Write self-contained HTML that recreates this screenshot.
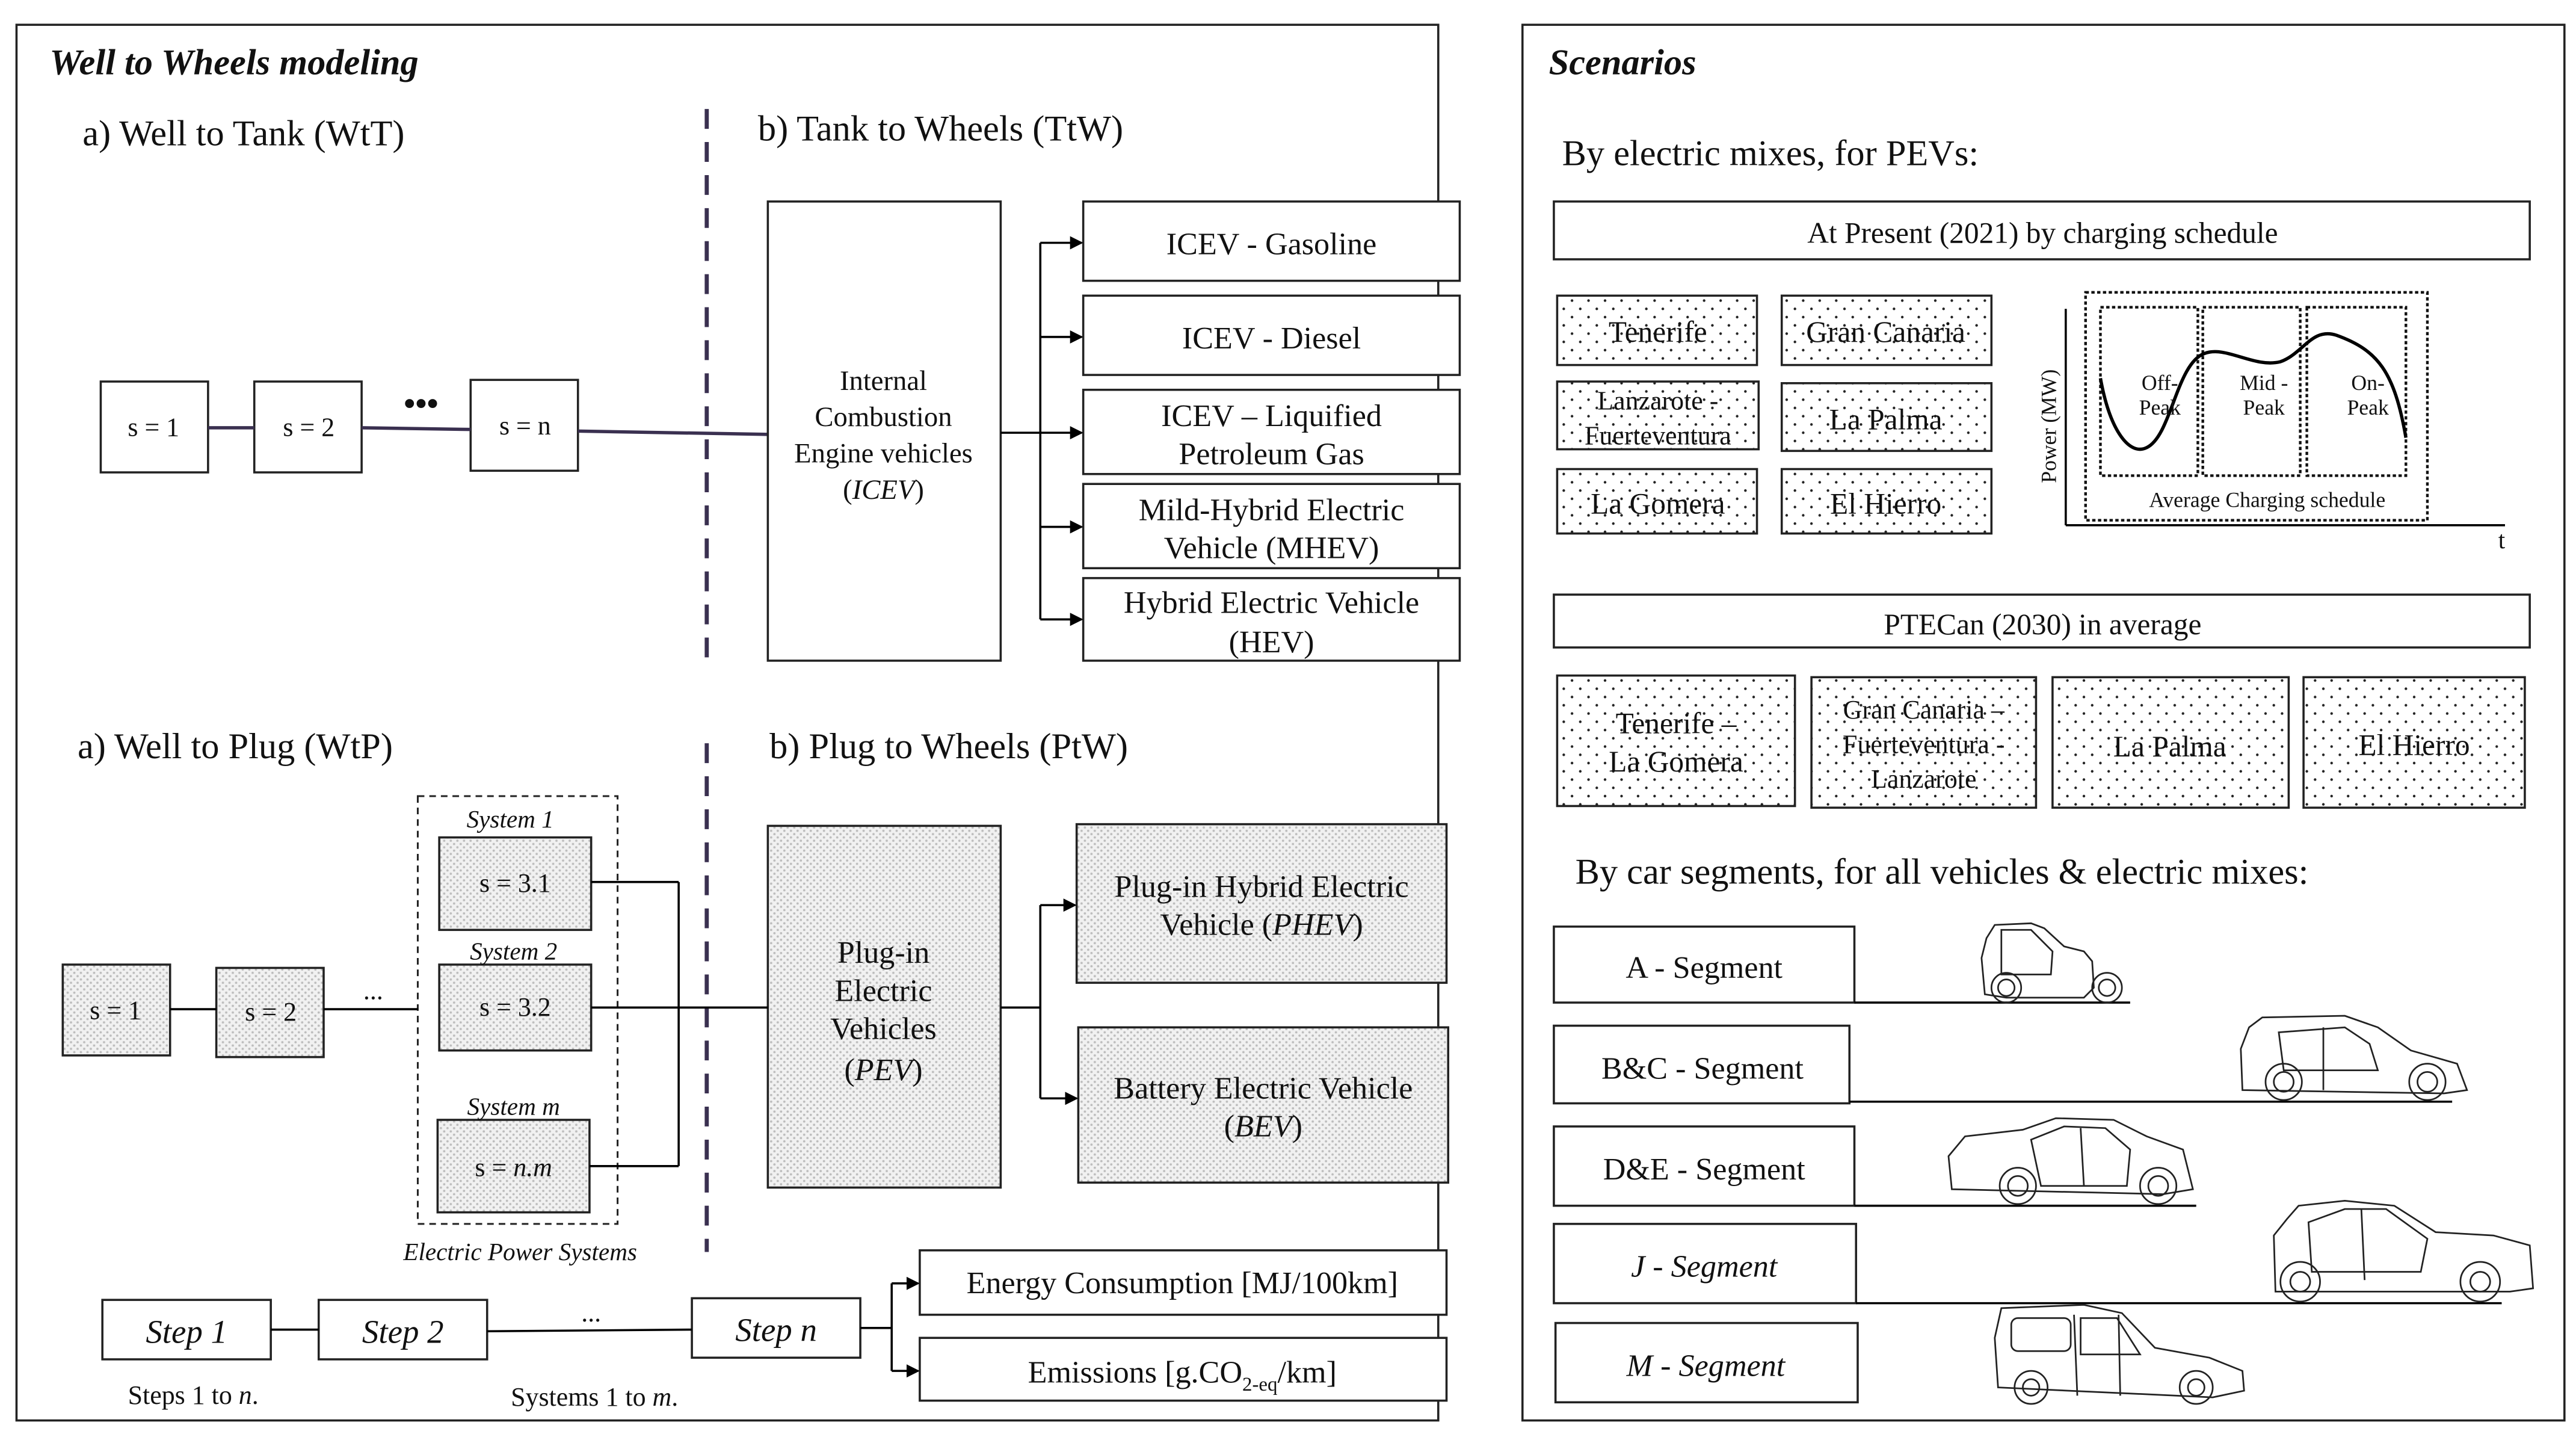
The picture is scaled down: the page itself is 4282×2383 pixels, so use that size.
<!DOCTYPE html>
<html><head><meta charset="utf-8"><style>
html,body{margin:0;padding:0;background:#fff}
svg{display:block}
text{font-family:"Liberation Serif",serif;fill:#111}
</style></head><body>
<svg width="4282" height="2383" viewBox="0 0 1560 868.2" preserveAspectRatio="none" xmlns="http://www.w3.org/2000/svg">
<defs>
<pattern id="fine" width="4" height="4" patternUnits="userSpaceOnUse"><rect width="4" height="4" fill="#f1f1f1"/><circle cx="1" cy="1" r="0.7" fill="#bdbdbd"/><circle cx="3" cy="3" r="0.7" fill="#bdbdbd"/></pattern>
<pattern id="sparse" width="10" height="10" patternUnits="userSpaceOnUse"><rect width="10" height="10" fill="#fff"/><circle cx="2" cy="2" r="0.8" fill="#222"/><circle cx="7" cy="7" r="0.8" fill="#222"/></pattern>
<marker id="ar" markerWidth="8" markerHeight="8" refX="7" refY="4" orient="auto" markerUnits="userSpaceOnUse"><path d="M0,0 L8,4 L0,8 z" fill="#000"/></marker>
</defs>
<g fill="none" stroke="#222" stroke-width="1.3">
<rect x="10" y="15" width="861" height="845"/>
<rect x="922" y="15" width="631" height="845"/>
</g>
<text x="30" y="45" font-size="22" font-weight="bold" font-style="italic">Well to Wheels modeling</text>
<text x="938" y="45" font-size="22" font-weight="bold" font-style="italic">Scenarios</text>

<!-- dashed dividers -->
<g stroke="#3a3050" stroke-width="2.5" stroke-dasharray="12,8">
<line x1="428" y1="66" x2="428" y2="400"/>
<line x1="428" y1="450" x2="428" y2="758"/>
</g>
<g font-size="22">
<text x="50" y="88">a) Well to Tank (WtT)</text>
<text x="459" y="85">b) Tank to Wheels (TtW)</text>
<text x="47" y="459">a) Well to Plug (WtP)</text>
<text x="466" y="459">b) Plug to Wheels (PtW)</text>
</g>

<!-- WtT -->
<g fill="#fff" stroke="#222" stroke-width="1.3">
<rect x="61" y="231" width="65" height="55"/>
<rect x="154" y="231" width="65" height="55"/>
<rect x="285" y="230" width="65" height="55"/>
</g>
<g stroke="#3a3050" stroke-width="2">
<line x1="126" y1="259" x2="154" y2="259"/>
<line x1="219" y1="259" x2="285" y2="260"/>
<line x1="350" y1="261" x2="465" y2="263"/>
</g>
<g font-size="16" text-anchor="middle">
<text x="93" y="264">s = 1</text><text x="187" y="264">s = 2</text><text x="318" y="263">s = n</text>
</g>
<text x="255" y="251" font-size="20" text-anchor="middle" font-weight="bold">•••</text>
<rect x="465" y="122" width="141" height="278" fill="#fff" stroke="#222" stroke-width="1.3"/>
<g font-size="17" text-anchor="middle">
<text x="535" y="236">Internal</text><text x="535" y="258">Combustion</text><text x="535" y="280">Engine vehicles</text><text x="535" y="302">(<tspan font-style="italic">ICEV</tspan>)</text>
</g>
<g fill="#fff" stroke="#222" stroke-width="1.3">
<rect x="656" y="122" width="228" height="48"/><rect x="656" y="179" width="228" height="48"/><rect x="656" y="236" width="228" height="51"/><rect x="656" y="293" width="228" height="51"/><rect x="656" y="350" width="228" height="50"/>
</g>
<g stroke="#000" stroke-width="1.3" fill="none">
<line x1="606" y1="262" x2="630" y2="262"/><line x1="630" y1="147" x2="630" y2="375"/>
<line x1="630" y1="147" x2="655" y2="147" marker-end="url(#ar)"/>
<line x1="630" y1="204" x2="655" y2="204" marker-end="url(#ar)"/>
<line x1="630" y1="262" x2="655" y2="262" marker-end="url(#ar)"/>
<line x1="630" y1="319" x2="655" y2="319" marker-end="url(#ar)"/>
<line x1="630" y1="375" x2="655" y2="375" marker-end="url(#ar)"/>
</g>
<g font-size="19" text-anchor="middle">
<text x="770" y="154">ICEV - Gasoline</text><text x="770" y="211">ICEV - Diesel</text>
<text x="770" y="258">ICEV – Liquified</text><text x="770" y="281">Petroleum Gas</text>
<text x="770" y="315">Mild-Hybrid Electric</text><text x="770" y="338">Vehicle (MHEV)</text>
<text x="770" y="371">Hybrid Electric Vehicle</text><text x="770" y="395">(HEV)</text>
</g>

<!-- WtP -->
<rect x="253" y="482" width="121" height="259" fill="none" stroke="#222" stroke-width="1.1" stroke-dasharray="4,3"/>
<g fill="url(#fine)" stroke="#222" stroke-width="1.3">
<rect x="38" y="584" width="65" height="55"/><rect x="131" y="586" width="65" height="54"/>
<rect x="266" y="507" width="92" height="56"/><rect x="266" y="584" width="92" height="52"/><rect x="265" y="678" width="92" height="56"/>
<rect x="465" y="500" width="141" height="219"/>
<rect x="652" y="499" width="224" height="96"/><rect x="653" y="622" width="224" height="94"/>
</g>
<g stroke="#000" stroke-width="1.3" fill="none">
<line x1="103" y1="611" x2="131" y2="611"/><line x1="196" y1="611" x2="253" y2="611"/>
<line x1="358" y1="534" x2="411" y2="534"/><line x1="358" y1="610" x2="411" y2="610"/><line x1="357" y1="706" x2="411" y2="706"/>
<line x1="411" y1="534" x2="411" y2="706"/><line x1="411" y1="610" x2="465" y2="610"/>
<line x1="606" y1="610" x2="630" y2="610"/><line x1="630" y1="548" x2="630" y2="665"/>
<line x1="630" y1="548" x2="651" y2="548" marker-end="url(#ar)"/><line x1="630" y1="665" x2="652" y2="665" marker-end="url(#ar)"/>
</g>
<g font-size="16" text-anchor="middle">
<text x="70" y="617">s = 1</text><text x="164" y="618">s = 2</text>
<text x="312" y="540">s = 3.1</text><text x="312" y="615">s = 3.2</text><text x="311" y="712">s = <tspan font-style="italic">n.m</tspan></text>
</g>
<text x="226" y="605" font-size="16" text-anchor="middle">...</text>
<g font-size="15" font-style="italic" text-anchor="middle">
<text x="309" y="501">System 1</text><text x="311" y="581">System 2</text><text x="311" y="675">System m</text><text x="315" y="763">Electric Power Systems</text>
</g>
<g font-size="19" text-anchor="middle">
<text x="535" y="583">Plug-in</text><text x="535" y="606">Electric</text><text x="535" y="629">Vehicles</text><text x="535" y="654">(<tspan font-style="italic">PEV</tspan>)</text>
<text x="764" y="543">Plug-in Hybrid Electric</text><text x="764" y="566">Vehicle (<tspan font-style="italic">PHEV</tspan>)</text>
<text x="765" y="665">Battery Electric Vehicle</text><text x="765" y="688">(<tspan font-style="italic">BEV</tspan>)</text>
</g>

<!-- Steps -->
<g fill="#fff" stroke="#222" stroke-width="1.3">
<rect x="62" y="787" width="102" height="36"/><rect x="193" y="787" width="102" height="36"/><rect x="419" y="786" width="102" height="36"/>
<rect x="557" y="757" width="319" height="39"/><rect x="557" y="810" width="319" height="38"/>
</g>
<g stroke="#000" stroke-width="1.3" fill="none">
<line x1="164" y1="805" x2="193" y2="805"/><line x1="295" y1="806" x2="419" y2="805"/>
<line x1="521" y1="804" x2="540" y2="804"/><line x1="540" y1="777" x2="540" y2="830"/>
<line x1="540" y1="777" x2="556" y2="777" marker-end="url(#ar)"/><line x1="540" y1="830" x2="556" y2="830" marker-end="url(#ar)"/>
</g>
<g font-size="20" font-style="italic" text-anchor="middle">
<text x="113" y="813">Step 1</text><text x="244" y="813">Step 2</text><text x="470" y="812">Step n</text>
</g>
<text x="358" y="800" font-size="16" text-anchor="middle">...</text>
<g font-size="19" text-anchor="middle">
<text x="716" y="783">Energy Consumption [MJ/100km]</text>
<text x="716" y="837">Emissions [g.CO<tspan font-size="12" dy="5">2-eq</tspan><tspan dy="-5">/km]</tspan></text>
</g>
<g font-size="16" text-anchor="middle">
<text x="117" y="850">Steps 1 to <tspan font-style="italic">n</tspan>.</text>
<text x="360" y="851">Systems 1 to <tspan font-style="italic">m</tspan>.</text>
</g>

<!-- Scenarios -->
<g font-size="22"><text x="946" y="100">By electric mixes, for PEVs:</text>
<text x="954" y="535">By car segments, for all vehicles &amp; electric mixes:</text></g>
<g fill="#fff" stroke="#222" stroke-width="1.3">
<rect x="941" y="122" width="591" height="35"/><rect x="941" y="360" width="591" height="32"/>
</g>
<g font-size="18" text-anchor="middle"><text x="1237" y="147">At Present (2021) by charging schedule</text><text x="1237" y="384">PTECan (2030) in average</text></g>
<g fill="url(#sparse)" stroke="#222" stroke-width="1.3">
<rect x="943" y="179" width="121" height="42"/><rect x="1079" y="179" width="127" height="42"/>
<rect x="943" y="231" width="122" height="41"/><rect x="1079" y="232" width="127" height="41"/>
<rect x="943" y="284" width="121" height="39"/><rect x="1079" y="284" width="127" height="39"/>
<rect x="943" y="409" width="144" height="79"/><rect x="1097" y="410" width="136" height="79"/>
<rect x="1243" y="410" width="143" height="79"/><rect x="1395" y="410" width="134" height="79"/>
</g>
<g font-size="18" text-anchor="middle">
<text x="1004" y="207">Tenerife</text><text x="1142" y="207">Gran Canaria</text>
<text x="1004" y="248" font-size="16">Lanzarote -</text><text x="1004" y="269" font-size="16">Fuerteventura</text>
<text x="1142" y="260">La Palma</text><text x="1004" y="311">La Gomera</text><text x="1142" y="311">El Hierro</text>
<text x="1015" y="444">Tenerife –</text><text x="1015" y="467">La Gomera</text>
<text x="1165" y="435" font-size="16">Gran Canaria –</text><text x="1165" y="456" font-size="16">Fuerteventura -</text><text x="1165" y="477" font-size="16">Lanzarote</text>
<text x="1314" y="458">La Palma</text><text x="1462" y="457">El Hierro</text>
</g>
<!-- chart -->
<g stroke="#000" stroke-width="1.3"><line x1="1251" y1="187" x2="1251" y2="318"/><line x1="1251" y1="318" x2="1517" y2="318"/></g>
<g fill="none" stroke="#111" stroke-width="1.6" stroke-dasharray="2,1.5">
<rect x="1263" y="177" width="207" height="138"/>
<rect x="1272" y="186" width="59" height="102"/><rect x="1334" y="186" width="59" height="102"/><rect x="1397" y="186" width="60" height="102"/>
</g>
<path d="M1272,229 C1278,262 1290,276 1300,271 C1315,264 1318,220 1335,214 C1348,209 1365,223 1381,219 C1395,214 1400,198 1415,203 C1440,212 1450,225 1457,265" fill="none" stroke="#000" stroke-width="2"/>
<g font-size="13" text-anchor="middle">
<text x="1308" y="236">Off-</text><text x="1308" y="251">Peak</text>
<text x="1371" y="236">Mid -</text><text x="1371" y="251">Peak</text>
<text x="1434" y="236">On-</text><text x="1434" y="251">Peak</text>
<text x="1373" y="307">Average Charging schedule</text>
<text x="1245" y="258" transform="rotate(-90 1245 258)">Power (MW)</text>
</g>
<text x="1515" y="332" font-size="15" text-anchor="middle">t</text>

<!-- segments -->
<g fill="#fff" stroke="#222" stroke-width="1.3">
<rect x="941" y="561" width="182" height="46"/><rect x="941" y="621" width="179" height="47"/>
<rect x="941" y="682" width="182" height="48"/><rect x="941" y="741" width="183" height="48"/><rect x="942" y="801" width="183" height="48"/>
</g>
<g stroke="#000" stroke-width="1.3">
<line x1="1123" y1="607" x2="1290" y2="607"/><line x1="1120" y1="667" x2="1485" y2="667"/>
<line x1="1123" y1="730" x2="1330" y2="730"/><line x1="1124" y1="789" x2="1515" y2="789"/>
</g>
<g font-size="19" text-anchor="middle">
<text x="1032" y="592">A - Segment</text><text x="1031" y="653">B&amp;C - Segment</text><text x="1032" y="714">D&amp;E - Segment</text>
<text x="1032" y="773" font-style="italic">J - Segment</text><text x="1033" y="833" font-style="italic">M - Segment</text>
</g>
<!-- cars -->
<g fill="none" stroke="#222" stroke-width="1">
<!-- A -->
<path d="M1202,602 L1200,580 L1203,568 L1208,560 L1230,559 L1238,562 L1250,573 L1262,576 L1267,582 L1268,598 L1262,604 L1215,604 Z"/>
<path d="M1212,563 L1230,563 L1243,576 L1242,590 L1212,590 Z"/>
<circle cx="1215" cy="598" r="9"/><circle cx="1215" cy="598" r="5"/><circle cx="1276" cy="598" r="9"/><circle cx="1276" cy="598" r="5"/>
<!-- B&C -->
<path d="M1358,660 L1357,635 L1362,622 L1370,616 L1420,615 L1440,622 L1460,636 L1488,644 L1494,660 L1480,662 Z"/>
<path d="M1380,625 L1420,622 L1435,632 L1440,648 L1383,648 Z"/><line x1="1407" y1="622" x2="1407" y2="660"/>
<circle cx="1383" cy="655" r="11"/><circle cx="1383" cy="655" r="6"/><circle cx="1470" cy="655" r="11"/><circle cx="1470" cy="655" r="6"/>
<!-- D&E -->
<path d="M1182,720 L1180,700 L1190,688 L1225,684 L1245,677 L1280,678 L1300,688 L1322,696 L1328,720 L1310,723 Z"/>
<path d="M1230,690 L1250,682 L1275,683 L1290,696 L1288,718 L1236,718 Z"/><line x1="1260" y1="683" x2="1262" y2="718"/>
<circle cx="1222" cy="718" r="11"/><circle cx="1222" cy="718" r="6"/><circle cx="1307" cy="718" r="11"/><circle cx="1307" cy="718" r="6"/>
<!-- J -->
<path d="M1378,782 L1377,748 L1385,738 L1392,730 L1420,727 L1450,730 L1475,746 L1510,748 L1532,754 L1534,780 L1520,782 Z"/>
<path d="M1398,740 L1420,732 L1445,732 L1470,750 L1466,770 L1400,770 Z"/><line x1="1430" y1="732" x2="1432" y2="775"/>
<circle cx="1393" cy="776" r="12"/><circle cx="1393" cy="776" r="6"/><circle cx="1502" cy="776" r="12"/><circle cx="1502" cy="776" r="6"/>
<!-- M -->
<path d="M1210,840 L1208,810 L1212,792 L1262,790 L1285,795 L1305,816 L1338,822 L1358,830 L1359,842 L1340,846 Z"/>
<rect x="1218" y="798" width="36" height="20" rx="4"/><path d="M1260,798 L1282,798 L1296,820 L1260,820 Z"/>
<line x1="1256" y1="796" x2="1258" y2="845"/><line x1="1283" y1="796" x2="1284" y2="845"/>
<circle cx="1230" cy="840" r="10"/><circle cx="1230" cy="840" r="5"/><circle cx="1330" cy="840" r="10"/><circle cx="1330" cy="840" r="5"/>
</g>
</svg>
</body></html>
